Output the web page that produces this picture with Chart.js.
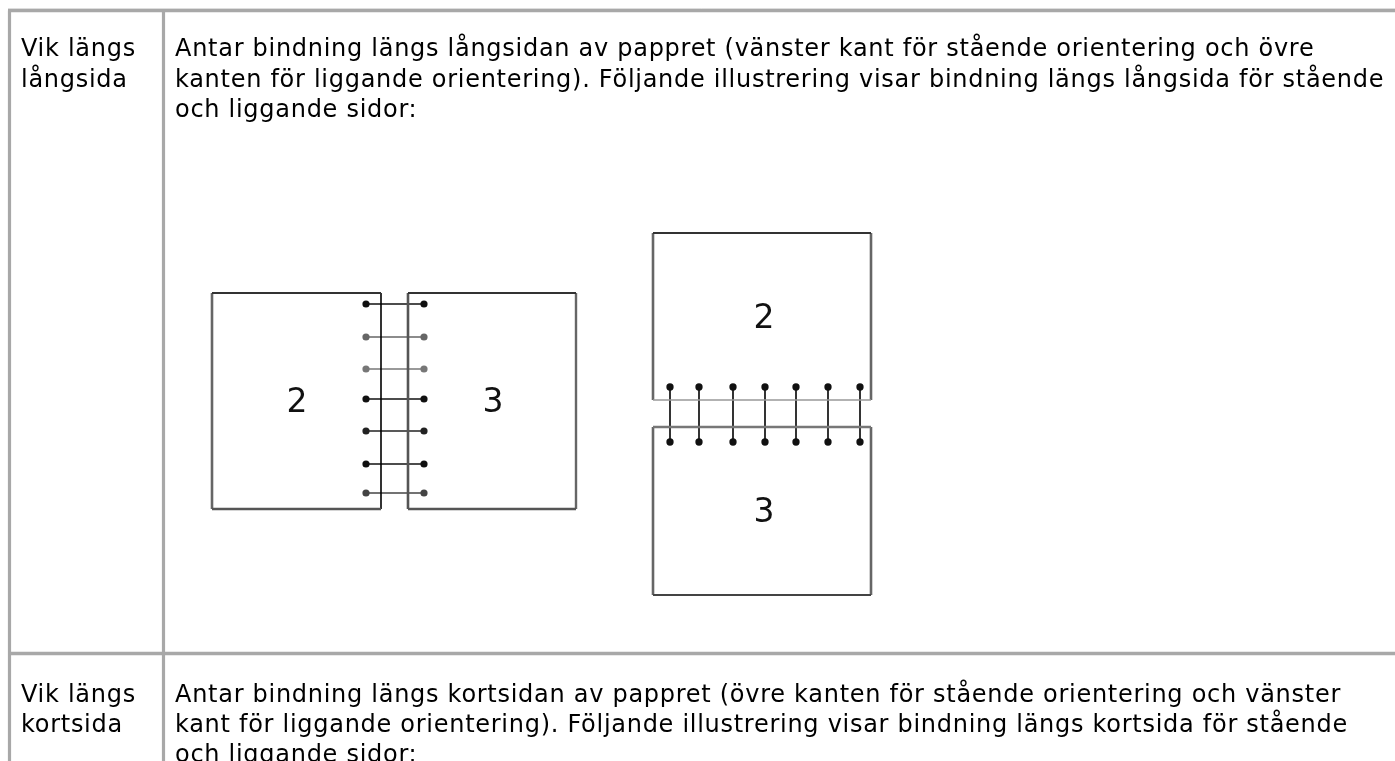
<!DOCTYPE html>
<html lang="sv">
<head>
<meta charset="utf-8">
<title>Vik längs långsida / kortsida</title>
<script src="https://cdn.jsdelivr.net/npm/chart.js@4"></script>
<style>
  html, body { margin: 0; padding: 0; background: #fff; overflow: hidden; }
  canvas { display: block; filter: blur(0.5px); }
</style>
</head>
<body>
<canvas id="sheet" width="1395" height="761"></canvas>
<script>
// table rules
var ruleColumns = [9.5, 163.5];
var ruleRows = [10.5, 653.5];
// side by side spread
var spreadLeftPage = [212, 381];
var spreadRightPage = [408, 576];
var spreadEdges = [293, 509];
var spreadStitchRows = [304, 337, 369, 399, 431, 464, 493];
var spreadStitchEnds = [366, 424];
var spreadStitchShades = ['#111', '#666', '#777', '#111', '#222', '#111', '#444'];
// stacked spread
var stackedEdges = [653, 871];
var stackedTopPage = [233, 400];
var stackedBottomPage = [427, 595];
var stackedStitchColumns = [670, 699, 733, 765, 796, 828, 860];
var stackedStitchEnds = [387, 442];

var pageNumbers = [['2', 297, 412], ['3', 493, 412], ['2', 764, 328], ['3', 764, 522]];
var cellLabels = [['Vik längs', 21, 56], ['långsida', 21, 87], ['Vik längs', 21, 702], ['kortsida', 21, 732]];
var cellTexts = [
  ['Antar bindning längs långsidan av pappret (vänster kant för stående orientering och övre', 175, 56],
  ['kanten för liggande orientering). Följande illustrering visar bindning längs långsida för stående', 175, 87],
  ['och liggande sidor:', 175, 117],
  ['Antar bindning längs kortsidan av pappret (övre kanten för stående orientering och vänster', 175, 702],
  ['kant för liggande orientering). Följande illustrering visar bindning längs kortsida för stående', 175, 732],
  ['och liggande sidor:', 175, 762]
];

var sets = [];
function seg(x1, y1, x2, y2, color, width, radius) {
  sets.push({
    data: [{x: x1, y: y1}, {x: x2, y: y2}],
    showLine: true,
    borderColor: color,
    backgroundColor: color,
    borderWidth: width,
    pointRadius: radius || 0
  });
}

// table
seg(ruleColumns[0] - 1.5, ruleRows[0] - 2, 1395, ruleRows[0] - 2, '#ddd', 1);
seg(ruleColumns[0] - 1.5, ruleRows[0], 1395, ruleRows[0], '#a8a8a8', 3.4);
seg(ruleColumns[0], ruleRows[0], ruleColumns[0], 761, '#a8a8a8', 3.2);
seg(ruleColumns[1], ruleRows[0], ruleColumns[1], 761, '#a8a8a8', 3.2);
seg(ruleColumns[0], ruleRows[1], 1395, ruleRows[1], '#a8a8a8', 3.4);

// side by side pages
seg(spreadLeftPage[0], spreadEdges[0], spreadLeftPage[1], spreadEdges[0], '#333', 2);
seg(spreadLeftPage[0], spreadEdges[1], spreadLeftPage[1], spreadEdges[1], '#555', 2.4);
seg(spreadLeftPage[0], spreadEdges[0], spreadLeftPage[0], spreadEdges[1], '#666', 2.6);
seg(spreadLeftPage[1], spreadEdges[0], spreadLeftPage[1], spreadEdges[1], '#000', 1.6);
seg(spreadRightPage[0], spreadEdges[0], spreadRightPage[1], spreadEdges[0], '#333', 2);
seg(spreadRightPage[0], spreadEdges[1], spreadRightPage[1], spreadEdges[1], '#555', 2.4);
seg(spreadRightPage[0], spreadEdges[0], spreadRightPage[0], spreadEdges[1], '#555', 2.6);
seg(spreadRightPage[1], spreadEdges[0], spreadRightPage[1], spreadEdges[1], '#666', 2.4);
spreadStitchRows.forEach(function(y, i) {
  seg(spreadStitchEnds[0], y, spreadStitchEnds[1], y, spreadStitchShades[i], 1.6, 2.8);
});

// stacked pages
seg(stackedEdges[0], stackedTopPage[0], stackedEdges[1], stackedTopPage[0], '#333', 2);
seg(stackedEdges[0], stackedTopPage[1], stackedEdges[1], stackedTopPage[1], '#999', 1.6);
seg(stackedEdges[0], stackedTopPage[0], stackedEdges[0], stackedTopPage[1], '#666', 2.6);
seg(stackedEdges[1], stackedTopPage[0], stackedEdges[1], stackedTopPage[1], '#666', 2.6);
seg(stackedEdges[0], stackedBottomPage[0], stackedEdges[1], stackedBottomPage[0], '#777', 2.6);
seg(stackedEdges[0], stackedBottomPage[1], stackedEdges[1], stackedBottomPage[1], '#444', 2);
seg(stackedEdges[0], stackedBottomPage[0], stackedEdges[0], stackedBottomPage[1], '#666', 2.6);
seg(stackedEdges[1], stackedBottomPage[0], stackedEdges[1], stackedBottomPage[1], '#666', 2.6);
stackedStitchColumns.forEach(function(x) {
  seg(x, stackedStitchEnds[0], x, stackedStitchEnds[1], '#111', 1.7, 2.8);
});

var textPlugin = {
  id: 'sheetText',
  afterDatasetsDraw: function(chart) {
    var c = chart.ctx, sx = chart.scales.x, sy = chart.scales.y;
    function put(rows, font, color) {
      c.save();
      c.font = font;
      c.letterSpacing = '0.72px';
      c.fillStyle = color;
      c.textAlign = 'left';
      c.textBaseline = 'alphabetic';
      rows.forEach(function(r) {
        c.fillText(r[0], sx.getPixelForValue(r[1]), sy.getPixelForValue(r[2]));
      });
      c.restore();
    }
    put(cellLabels, '24px "DejaVu Sans"', '#000');
    put(cellTexts, '24px "DejaVu Sans"', '#000');
    c.save();
    c.font = '33px "DejaVu Sans"';
    c.fillStyle = '#111';
    c.textAlign = 'center';
    pageNumbers.forEach(function(r) {
      c.fillText(r[0], sx.getPixelForValue(r[1]), sy.getPixelForValue(r[2]));
    });
    c.restore();
  }
};

var chart = new Chart(document.getElementById('sheet'), {
  type: 'scatter',
  data: { datasets: sets },
  plugins: [textPlugin],
  options: {
    responsive: false,
    animation: false,
    layout: { padding: 0, autoPadding: false },
    plugins: { legend: { display: false }, tooltip: { enabled: false } },
    scales: {
      x: { type: 'linear', display: false, min: 0, max: 1395 },
      y: { type: 'linear', display: false, min: 0, max: 761, reverse: true }
    }
  }
});
</script>
</body>
</html>
